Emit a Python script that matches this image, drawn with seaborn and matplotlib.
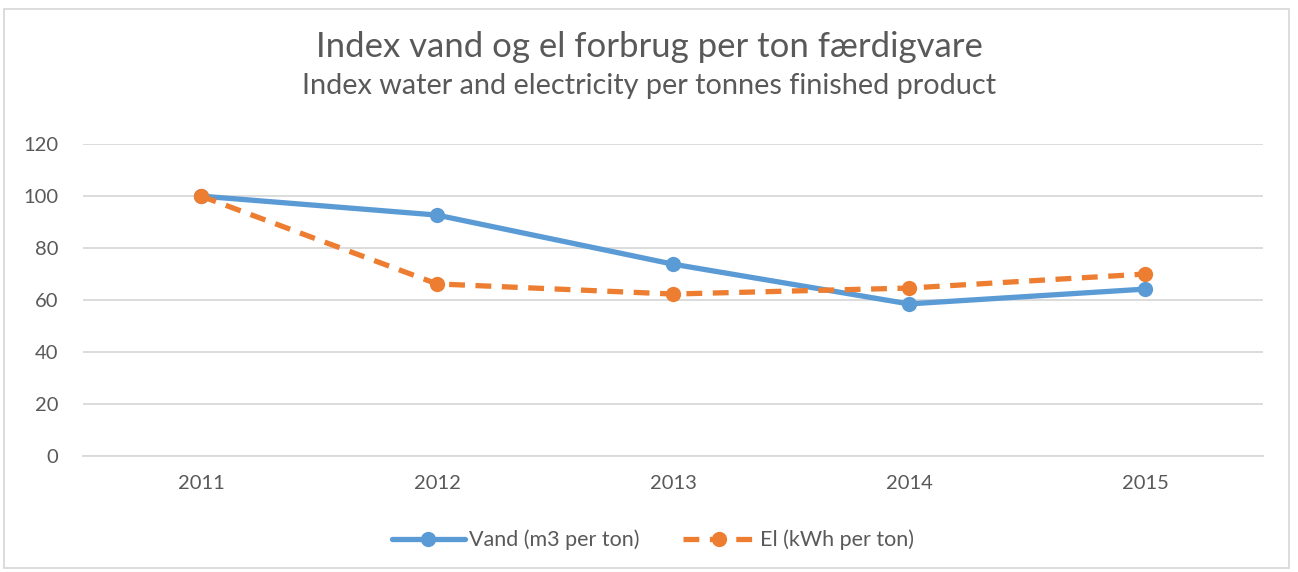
import pandas as pd
import matplotlib.pyplot as plt
import seaborn as sns
from matplotlib.patches import Rectangle

years = ["2011", "2012", "2013", "2014", "2015"]
vand = [100, 92.7, 73.8, 58.5, 64.2]
el = [100, 66.2, 62.3, 64.6, 70.0]
yticks = [0, 20, 40, 60, 80, 100, 120]

df = pd.DataFrame({"year": years, "vand": vand, "el": el})

sns.set_theme(style="white")
plt.rcParams["font.family"] = ["Lato", "DejaVu Sans"]

grey = "#595959"
blue = "#5b9bd5"
orange = "#ed7d31"

fig = plt.figure(figsize=(12.98, 5.72), dpi=100)
ax = fig.add_axes([0.064, 0.203, 0.909, 0.545])

sns.lineplot(
    data=df, x="year", y="vand", ax=ax,
    color=blue, linewidth=3.8, marker="o", markersize=11,
    markeredgewidth=0, label="Vand (m3 per ton)"
)
sns.lineplot(
    data=df, x="year", y="el", ax=ax,
    color=orange, linewidth=3.8, linestyle=(0, (3, 2)),
    marker="o", markersize=11, markeredgewidth=0,
    label="El (kWh per ton)"
)

ax.set_xlim(-0.5, len(years) - 0.5)
ax.set_ylim(0, 120)
ax.set_yticks(yticks)
ax.yaxis.grid(True, color="#d9d9d9", linewidth=1.3)
ax.set_axisbelow(True)
for s in ["top", "right", "left"]:
    ax.spines[s].set_visible(False)
ax.spines["bottom"].set_color("#d9d9d9")
ax.spines["bottom"].set_linewidth(1.3)
ax.tick_params(axis="both", length=0, labelsize=14.5, labelcolor=grey)
ax.tick_params(axis="x", pad=14)
ax.tick_params(axis="y", pad=18)
ax.set_xlabel("")
ax.set_ylabel("")

ax.legend(
    loc="upper center", bbox_to_anchor=(0.483, -0.175), ncol=2,
    frameon=False, fontsize=15.5, labelcolor=grey,
    handlelength=3.4, columnspacing=2.0, handletextpad=0.2
)

fig.text(0.5, 0.918, "Index vand og el forbrug per ton færdigvare",
         ha="center", va="center", fontsize=25, color=grey)
fig.text(0.5, 0.849, "Index water and electricity per tonnes finished product",
         ha="center", va="center", fontsize=20.8, color=grey)

fig.patches.append(Rectangle((0.003, 0.007), 0.99, 0.978, transform=fig.transFigure,
                             fill=False, edgecolor="#d9d9d9", linewidth=1.3))

plt.savefig("out.png", dpi=100)
plt.close()
